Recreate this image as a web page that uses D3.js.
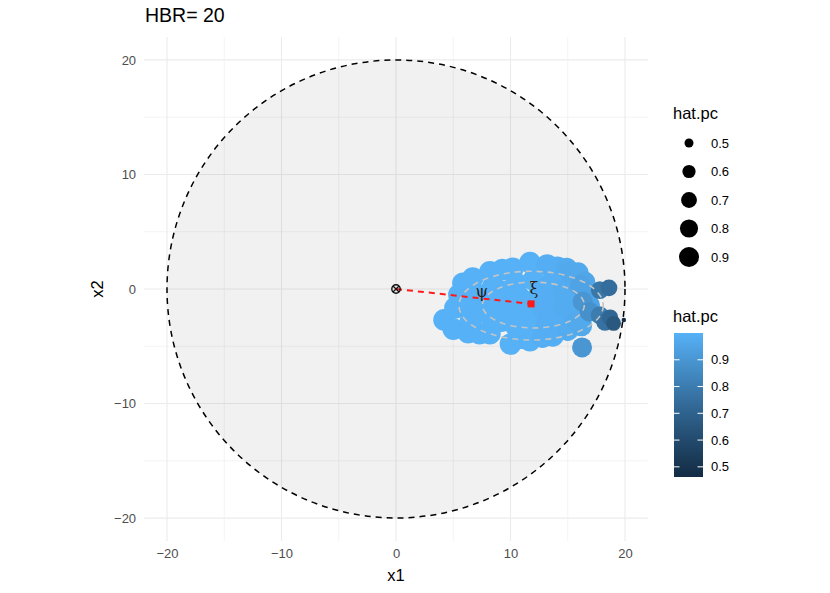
<!DOCTYPE html>
<html>
<head>
<meta charset="utf-8">
<script src="https://cdn.jsdelivr.net/npm/d3@7"></script>
<style>
  body { margin: 0; background: #fff; }
  text { font-family: "Liberation Sans", Arial, Helvetica, sans-serif; }
</style>
</head>
<body>
<svg id="chart" width="830" height="593"></svg>
<script>
// ---------------- data ----------------
const titleText = "HBR= 20";
const xTicks = [-20, -10, 0, 10, 20];
const yTicks = [-20, -10, 0, 10, 20];
const minorTicks = [-15, -5, 5, 15];
const circleRadius = 20;
// sample points: x1, x2, hat.pc
const ptX = [5.85, 6.7, 8.2, 9.3, 10.2, 11.7, 13.2, 14.1, 14.9, 15.9, 16.5,
             5.5, 5.15, 4.2,
             5.0, 6.3, 7.3, 8.2, 10.0, 11.0, 11.7, 12.8, 13.7, 15.0, 16.2,
             7.0, 7.5, 6.5, 8.5, 9.0, 9.2, 10.5, 10.8, 10.5, 12.0, 12.3, 12.5, 12.0,
             13.5, 13.8, 14.0, 15.0, 15.2, 15.5, 15.8, 14.5,
             8.0, 9.6, 10.7, 11.4, 12.8, 13.7, 14.6, 6.3, 9.9, 8.3, 11.3, 13.2, 14.6, 13.0,
             16.8, 16.9, 15.2, 16.1,
             16.3, 16.9, 16.25, 17.8, 17.8, 18.6, 18.25, 18.7, 19.0, 19.9];
const ptY = [0.5, 0.95, 1.5, 1.7, 1.8, 2.3, 2.1, 1.9, 1.8, 1.4, 0.6,
             -0.5, -1.65, -2.7,
             -3.5, -3.8, -3.9, -3.9, -4.8, -4.3, -4.5, -4.2, -4.1, -3.6, -3.2,
             -0.5, -2.0, -2.8, 0.3, -1.2, -2.8, 0.5, -1.8, -3.3, 0.8, -0.8, -2.5, -3.5,
             0.5, -1.2, -2.8, -0.5, -1.9, 0.6, -2.8, 1.0,
             -0.4, -0.2, -0.6, -1.2, -1.6, -1.0, -1.5, -1.5, -2.2, -2.4, -2.8, -3.0, -0.2, 0.0,
             -0.4, -1.4, 1.5, 0.3,
             -1.1, -2.0, -5.1, -0.1, -2.3, 0.1, -2.9, -2.5, -3.0, -2.7];
const ptHat = [1.0, 1.0, 1.0, 1.0, 1.0, 1.0, 0.99, 0.99, 0.98, 0.97, 0.96,
               1.0, 1.0, 1.0,
               1.0, 1.0, 1.0, 1.0, 1.0, 1.0, 1.0, 0.99, 0.99, 0.98, 0.97,
               1.0, 1.0, 1.0, 1.0, 1.0, 1.0, 1.0, 1.0, 1.0, 1.0, 1.0, 1.0, 1.0,
               0.99, 0.99, 0.99, 0.98, 0.98, 0.98, 0.97, 0.99,
               1.0, 1.0, 1.0, 1.0, 0.99, 0.99, 0.98, 1.0, 1.0, 1.0, 1.0, 0.99, 0.98, 0.99,
               0.95, 0.95, 0.97, 0.95,
               0.9, 0.88, 0.9, 0.78, 0.8, 0.74, 0.76, 0.72, 0.66, 0.462];
const hatRange = [0.462, 1.0];
const legendBreaks = [0.5, 0.6, 0.7, 0.8, 0.9];
// mean direction (xi) and ellipses
const xiPoint = [11.8, -1.3];
const psiLabel = [7.5, -0.25];
const xiLabel = [12.05, 0.05];
const ellCx = [12.0, 11.8];
const ellCy = [-1.4, -1.45];
const ellRx = [4.45, 6.3];
const ellRy = [2.0, 3.0];

// ---------------- scales ----------------
const svg = d3.select("#chart");
const x = d3.scaleLinear().domain([-22, 22]).range([144.1, 647.9]);
const y = d3.scaleLinear().domain([-22, 22]).range([541, 37]);
const colorInterp = d3.interpolateLab("#132B43", "#56B1F7");
const color = d3.scaleSequential(colorInterp).domain(hatRange);
const unit = d3.scaleLinear().domain(hatRange).range([0, 1]).clamp(true);
const diam = v => 4.4 + 17.3 * Math.sqrt(unit(v));

// ---------------- grid ----------------
const grid = svg.append("g");
grid.selectAll(".vminor").data(minorTicks).join("line")
  .attr("x1", d => x(d)).attr("x2", d => x(d)).attr("y1", y(22)).attr("y2", y(-22))
  .attr("stroke", "#ebebeb").attr("stroke-width", 0.6);
grid.selectAll(".hminor").data(minorTicks).join("line")
  .attr("y1", d => y(d)).attr("y2", d => y(d)).attr("x1", x(-22)).attr("x2", x(22))
  .attr("stroke", "#ebebeb").attr("stroke-width", 0.6);
grid.selectAll(".vmajor").data(xTicks).join("line")
  .attr("x1", d => x(d)).attr("x2", d => x(d)).attr("y1", y(22)).attr("y2", y(-22))
  .attr("stroke", "#ebebeb").attr("stroke-width", 1.1);
grid.selectAll(".hmajor").data(yTicks).join("line")
  .attr("y1", d => y(d)).attr("y2", d => y(d)).attr("x1", x(-22)).attr("x2", x(22))
  .attr("stroke", "#ebebeb").attr("stroke-width", 1.1);

// ---------------- circle ----------------
const rpx = x(circleRadius) - x(0);
svg.append("circle")
  .attr("cx", x(0)).attr("cy", y(0)).attr("r", rpx)
  .attr("fill", "rgba(0,0,0,0.055)")
  .attr("stroke", "#000").attr("stroke-width", 1.5)
  .attr("stroke-dasharray", "6,5");

// ---------------- points ----------------
const pts = ptX.map((d, i) => ({ x: d, y: ptY[i], h: ptHat[i] }))
  .sort((a, b) => b.h - a.h);
svg.append("g").selectAll("circle").data(pts).join("circle")
  .attr("cx", d => x(d.x)).attr("cy", d => y(d.y))
  .attr("r", d => diam(d.h) / 2)
  .attr("fill", d => color(d.h));

// ---------------- ellipses ----------------
svg.append("g").selectAll("ellipse").data(ellCx).join("ellipse")
  .attr("cx", d => x(d)).attr("cy", (d, i) => y(ellCy[i]))
  .attr("rx", (d, i) => x(ellRx[i]) - x(0))
  .attr("ry", (d, i) => y(0) - y(ellRy[i]))
  .attr("fill", "none").attr("stroke", "#c4c4c4").attr("stroke-width", 1.6)
  .attr("stroke-dasharray", "6,5");

// ---------------- red line & xi ----------------
svg.append("line")
  .attr("x1", x(0)).attr("y1", y(0)).attr("x2", x(xiPoint[0])).attr("y2", y(xiPoint[1]))
  .attr("stroke", "#ff1a1a").attr("stroke-width", 2).attr("stroke-dasharray", "6,5");
svg.append("rect")
  .attr("x", x(xiPoint[0]) - 3.5).attr("y", y(xiPoint[1]) - 3.5)
  .attr("width", 7).attr("height", 7).attr("fill", "#ff1a1a");

// origin symbol (circle with cross)
const ox = x(0), oy = y(0), orad = 4.2;
svg.append("circle").attr("cx", ox).attr("cy", oy).attr("r", orad)
  .attr("fill", "none").attr("stroke", "#111").attr("stroke-width", 1.4);
const dd = orad * 0.72;
svg.append("path")
  .attr("d", `M${ox - dd},${oy - dd}L${ox + dd},${oy + dd}M${ox - dd},${oy + dd}L${ox + dd},${oy - dd}`)
  .attr("stroke", "#111").attr("stroke-width", 1.3);

// labels psi, xi
svg.append("text").attr("x", x(psiLabel[0])).attr("y", y(psiLabel[1]))
  .attr("text-anchor", "middle").attr("dominant-baseline", "central")
  .style("font-family", "'DejaVu Serif', serif").style("font-size", "16px").attr("fill", "#222")
  .text("ψ");
svg.append("text").attr("x", x(xiLabel[0])).attr("y", y(xiLabel[1]))
  .attr("text-anchor", "middle").attr("dominant-baseline", "central")
  .style("font-family", "'DejaVu Serif', serif").style("font-size", "16px").attr("fill", "#222")
  .text("ξ");

// ---------------- axes ----------------
const fmt = d => d < 0 ? "\u2212" + Math.abs(d) : String(d);
const xAxis = svg.append("g").attr("transform", `translate(0,${y(-22)})`)
  .call(d3.axisBottom(x).tickValues(xTicks).tickSize(0).tickPadding(8).tickFormat(fmt));
xAxis.select(".domain").remove();
xAxis.selectAll("text").attr("fill", "#4d4d4d").style("font-size", "13px")
  .style("font-family", "'Liberation Sans', Arial, sans-serif");
const yAxis = svg.append("g").attr("transform", `translate(${x(-22)},0)`)
  .call(d3.axisLeft(y).tickValues(yTicks).tickSize(0).tickPadding(8).tickFormat(fmt));
yAxis.select(".domain").remove();
yAxis.selectAll("text").attr("fill", "#4d4d4d").style("font-size", "13px")
  .style("font-family", "'Liberation Sans', Arial, sans-serif");

svg.append("text").attr("x", x(0)).attr("y", 581).attr("text-anchor", "middle")
  .style("font-size", "16.5px").attr("fill", "#000").text("x1");
svg.append("text").attr("transform", `translate(103,${y(0)}) rotate(-90)`)
  .attr("text-anchor", "middle").style("font-size", "16.5px").attr("fill", "#000").text("x2");

// title
svg.append("text").attr("x", 145).attr("y", 22).style("font-size", "19.5px")
  .attr("fill", "#000").text(titleText);

// ---------------- size legend ----------------
const lg1 = svg.append("g");
lg1.append("text").attr("x", 673).attr("y", 119).style("font-size", "16.5px").text("hat.pc");
const keyY = d3.scalePoint().domain(legendBreaks).range([143, 257]);
lg1.selectAll("circle").data(legendBreaks).join("circle")
  .attr("cx", 689).attr("cy", d => keyY(d)).attr("r", d => diam(d) / 2).attr("fill", "#000");
lg1.selectAll(".lab").data(legendBreaks).join("text")
  .attr("x", 711).attr("y", d => keyY(d)).attr("dominant-baseline", "central")
  .style("font-size", "13px").attr("fill", "#000").text(d => d.toFixed(1));

// ---------------- colour bar ----------------
const lg2 = svg.append("g");
lg2.append("text").attr("x", 673).attr("y", 322).style("font-size", "16.5px").text("hat.pc");
const barX = 674, barW = 29, barTop = 333, barBot = 477;
const cbScale = d3.scaleLinear().domain(hatRange).range([barBot, barTop]);
const defs = svg.append("defs");
const grad = defs.append("linearGradient").attr("id", "cbgrad")
  .attr("x1", 0).attr("y1", 1).attr("x2", 0).attr("y2", 0);
d3.range(0, 1.0001, 0.05).forEach(t => {
  grad.append("stop").attr("offset", t).attr("stop-color", colorInterp(t));
});
lg2.append("rect").attr("x", barX).attr("y", barTop).attr("width", barW)
  .attr("height", barBot - barTop).attr("fill", "url(#cbgrad)");
lg2.selectAll(".tl").data(legendBreaks).join("path")
  .attr("d", d => `M${barX},${cbScale(d)}h5.5M${barX + barW - 5.5},${cbScale(d)}h5.5`)
  .attr("stroke", "#fff").attr("stroke-width", 1);
lg2.selectAll(".cl").data(legendBreaks).join("text")
  .attr("x", 711).attr("y", d => cbScale(d)).attr("dominant-baseline", "central")
  .style("font-size", "13px").attr("fill", "#000").text(d => d.toFixed(1));
</script>
</body>
</html>
